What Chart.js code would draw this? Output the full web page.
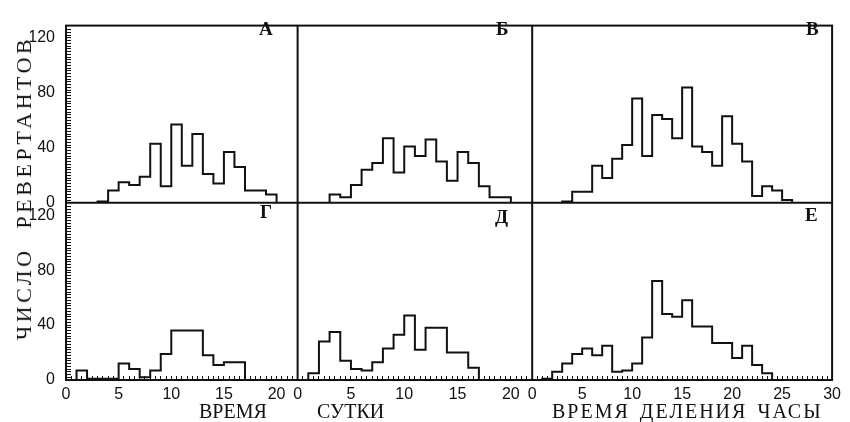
<!DOCTYPE html>
<html>
<head>
<meta charset="utf-8">
<title>Число ревертантов</title>
<script src="https://cdn.jsdelivr.net/npm/chart.js@4.4.1/dist/chart.umd.min.js"></script>
<style>
body        { margin:0; background:#fff; }
#wrap       { position:relative; width:850px; height:422px; overflow:hidden; background:#fff; }
#myChart    { position:absolute; left:0; top:0; }
.lbl        { position:absolute; font-family:"Liberation Serif", serif; color:#111; line-height:1; white-space:nowrap; }
.panel      { font-weight:bold; font-size:19px; }
.xt         { font-size:20px; top:401px; }
#ytitle     { font-size:22px; letter-spacing:3.5px; word-spacing:10px; left:24px; top:188px; transform:translate(-50%,-50%) rotate(-90deg); }
</style>
</head>
<body>
<div id="wrap">
    <canvas id="myChart" width="850" height="422"></canvas>
    <div class="lbl" id="ytitle">ЧИСЛО РЕВЕРТАНТОВ</div>
    <div class="lbl xt" style="left:199px">ВРЕМЯ</div>
    <div class="lbl xt" style="left:317px">СУТКИ</div>
    <div class="lbl xt" style="left:552px;letter-spacing:2px;word-spacing:3px">ВРЕМЯ ДЕЛЕНИЯ ЧАСЫ</div>
    <div class="lbl panel" style="left:259px;top:19px">А</div>
    <div class="lbl panel" style="left:496px;top:19px">Б</div>
    <div class="lbl panel" style="left:806px;top:19px">В</div>
    <div class="lbl panel" style="left:260px;top:202px">Г</div>
    <div class="lbl panel" style="left:495px;top:207px">Д</div>
    <div class="lbl panel" style="left:805px;top:205px">Е</div>
</div>
<script>
// гистограммы, бины шириной 1, start - начало первого бина
const start_A   =   3;
const counts_A  =   [1, 9, 15, 13, 19, 43, 12, 57, 27, 50, 21, 14, 37, 26, 9, 9, 6];
const start_B   =   3;
const counts_B  =   [6, 4, 13, 24, 29, 47, 22, 41, 34, 46, 30, 16, 37, 29, 12, 4, 4];
const start_V   =   3;
const counts_V  =   [1, 8, 8, 27, 18, 32, 42, 76, 34, 64, 61, 47, 84, 41, 37, 27, 63, 43, 30, 5, 12, 9, 2];
const start_G   =   1;
const counts_G  =   [7, 1, 1, 1, 12, 8, 2, 7, 19, 36, 36, 36, 18, 11, 13, 13];
const start_D   =   1;
const counts_D  =   [5, 28, 35, 14, 8, 7, 13, 23, 33, 47, 22, 38, 38, 20, 20, 9];
const start_E   =   1;
const counts_E  =   [1, 6, 12, 19, 23, 18, 25, 6, 7, 12, 31, 72, 48, 46, 58, 39, 39, 27, 27, 16, 25, 11, 5];

const x_labels_day  =   [0, 5, 10, 15, 20];
const x_labels_hrs  =   [0, 5, 10, 15, 20, 25, 30];
const y_labels      =   [0, 40, 80, 120];

function toSteps(start, counts)
{
    let pts = [{x: start, y: 0}];
    for (let i = 0; i < counts.length; i++)
    {
        pts.push({x: start + i, y: counts[i]});
    }
    pts.push({x: start + counts.length, y: 0});
    return pts;
}

function histSet(start, counts, xid, yid)
{
    return {
        data: toSteps(start, counts),
        xAxisID: xid,
        yAxisID: yid,
        stepped: 'before',
        borderColor: '#111',
        borderWidth: 2,
        pointRadius: 0,
        fill: false,
        clip: false
    };
}

const tickFont = {family: '"Liberation Sans", Arial, sans-serif', size: 16};

function xScale(max, weight, labels)
{
    return {
        type: 'linear', position: 'bottom', stack: 'x', stackWeight: weight,
        min: 0, max: max,
        grid: {drawOnChartArea: false, drawTicks: true, tickLength: -4, color: '#111', lineWidth: 1},
        border: {display: true, color: '#111', width: 2},
        ticks: {
            stepSize: 0.5, autoSkip: false, maxRotation: 0, padding: 9,
            color: '#111', font: tickFont,
            callback: function(v) { return labels.includes(v) ? String(v) : ''; }
        },
        afterFit: function(s) { s.height = 42; }
    };
}

function yScale()
{
    return {
        type: 'linear', position: 'left', stack: 'y', stackWeight: 1,
        min: 0, max: 129,
        grid: {drawOnChartArea: false, drawTicks: true, tickLength: -5, color: '#111', lineWidth: 1},
        border: {display: true, color: '#111', width: 2},
        ticks: {
            stepSize: 2, autoSkip: false, padding: 16,
            color: '#111', font: tickFont,
            callback: function(v) { return y_labels.includes(v) ? String(v) : ''; }
        },
        afterFit: function(s) { s.width = 36; }
    };
}

// рамка и разделители панелей
const framePlugin = {
    id: 'frame',
    afterDatasetsDraw: function(chart)
    {
        const ctx   =   chart.ctx;
        const a     =   chart.chartArea;
        const sc    =   chart.scales;
        ctx.save();
        ctx.strokeStyle = '#111';
        ctx.lineWidth   = 2;
        ctx.strokeRect(a.left, a.top, a.right - a.left, a.bottom - a.top);
        ctx.beginPath();
        ctx.moveTo(sc.x1.left, a.top);  ctx.lineTo(sc.x1.left, a.bottom);
        ctx.moveTo(sc.x2.left, a.top);  ctx.lineTo(sc.x2.left, a.bottom);
        ctx.moveTo(a.left, sc.yTop.bottom);  ctx.lineTo(a.right, sc.yTop.bottom);
        ctx.stroke();
        ctx.restore();
    }
};

const ctx = document.getElementById('myChart').getContext('2d');
const myChart = new Chart(ctx, {
    type: 'line',
    data: {
        datasets: [
            histSet(start_A, counts_A, 'x0', 'yTop'),
            histSet(start_B, counts_B, 'x1', 'yTop'),
            histSet(start_V, counts_V, 'x2', 'yTop'),
            histSet(start_G, counts_G, 'x0', 'yBot'),
            histSet(start_D, counts_D, 'x1', 'yBot'),
            histSet(start_E, counts_E, 'x2', 'yBot')
        ]
    },
    options: {
        responsive: false,
        animation: false,
        layout: {padding: {left: 30, top: 11, right: 10, bottom: 0}},
        plugins: {legend: {display: false}, tooltip: {enabled: false}},
        scales: {
            x0: xScale(22, 234, x_labels_day),
            x1: xScale(22, 237, x_labels_day),
            x2: xScale(30, 303, x_labels_hrs),
            yBot: yScale(),
            yTop: yScale()
        }
    },
    plugins: [framePlugin]
});
</script>
</body>
</html>
